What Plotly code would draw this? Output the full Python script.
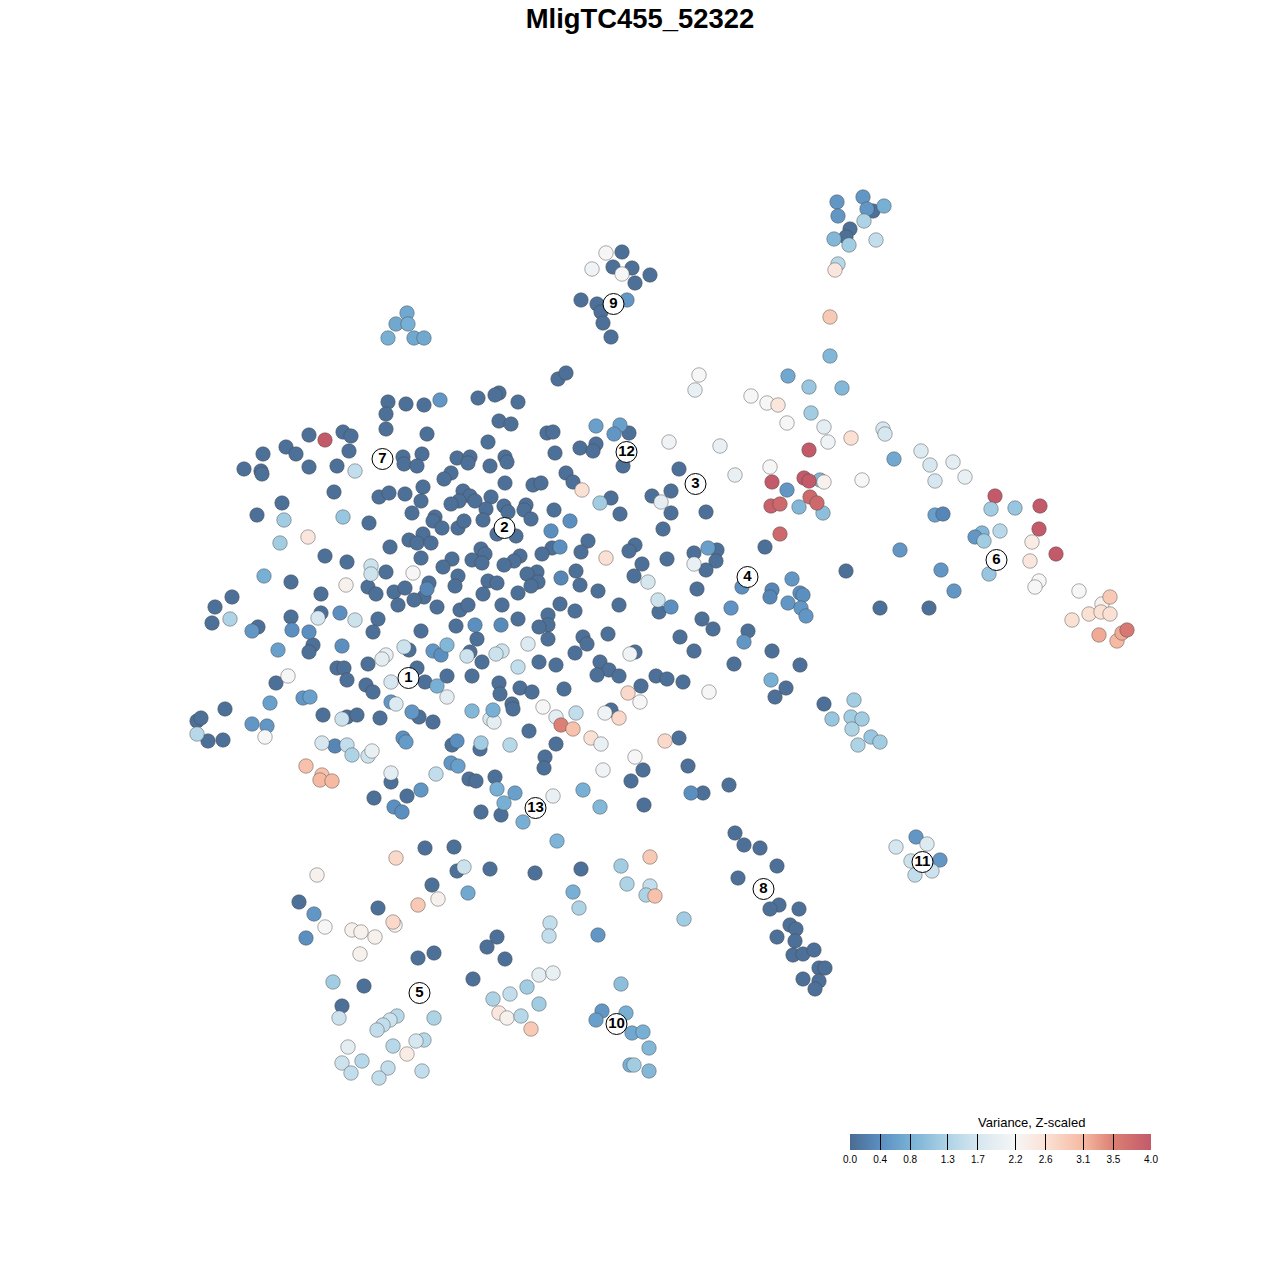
import plotly.graph_objects as go

# t-SNE-like embedding coordinates
dark_pts = [
(388,402),(406,404),(424,405),(386,414),(386,429),(427,434),(309,435),(343,432),(351,436),(286,447),(296,454),(263,454),(349,451),
(244,469),(261,471),(262,474),(309,467),(337,466),(403,457),(404,464),(422,454),(417,466),(457,458),(470,457),(468,463),(490,466),
(451,473),(444,479),(334,492),(379,497),(389,493),(405,494),(423,487),(421,501),(463,491),(470,496),(459,501),(451,504),(475,501),
(491,497),(486,509),(282,503),(257,515),(412,513),(435,517),(433,521),(442,528),(458,528),(464,521),(483,520),(369,523),(390,547),
(409,540),(423,534),(417,543),(431,543),(325,556),(347,562),(421,558),(452,559),(443,567),(472,560),(481,549),(485,554),(482,563),
(386,572),(458,576),(455,586),(488,581),(483,594),(291,582),(368,587),(376,594),(394,592),(405,588),(429,583),(424,597),(414,600),
(398,605),(437,607),(460,610),(468,605),(321,594),(232,597),(215,607),(212,623),(291,617),(321,613),(378,619),(373,632),(258,627),
(421,631),(456,626),(477,639),(313,645),(309,652),(409,650),(470,652),(482,662),(337,668),(344,668),(368,664),(347,680),(417,668),
(447,676),(472,676),(366,685),(373,692),(425,682),(276,683),
(558,379),(566,373),(478,398),(499,393),(495,395),(518,402),(499,421),(511,424),(547,433),(553,432),(488,442),(555,453),(580,448),
(596,444),(593,451),(629,433),(505,457),(507,462),(623,466),(679,469),(566,473),(573,482),(505,483),(533,485),(541,483),(504,506),
(508,512),(526,505),(524,510),(531,519),(554,510),(611,498),(620,514),(652,496),(671,491),(671,513),(706,512),(663,529),(497,534),
(516,536),(588,541),(581,552),(552,548),(542,554),(520,556),(514,561),(504,565),(635,545),(629,551),(642,564),(634,576),(667,559),
(694,553),(717,550),(716,561),(706,570),(765,547),(537,572),(527,574),(538,582),(531,586),(518,593),(497,583),(576,571),(580,585),
(598,591),(619,605),(697,589),(502,605),(560,604),(575,611),(659,612),(702,619),(713,629),(748,631),(680,637),(694,651),(734,664),
(772,651),(800,665),(518,619),(548,615),(548,625),(539,627),(548,639),(583,637),(587,644),(608,634),(575,653),(539,662),(556,665),
(635,652),(600,662),(609,670),(597,675),(619,676),(656,676),(667,679),(683,682),(641,686),(520,688),(532,692),(564,689),(786,688),
(775,697),(499,683),(500,694),
(225,709),(197,721),(201,718),(208,741),(223,740),(323,715),(347,717),(357,715),(380,718),(419,717),(433,722),(452,745),(480,749),
(469,779),(476,781),(495,777),(391,782),(374,798),(407,796),(481,812),(501,815),(425,848),(454,847),(457,871),(490,869),(432,885),
(512,704),(513,709),(529,731),(556,744),(545,757),(544,768),(611,710),(679,738),(688,766),(643,770),(631,781),(729,785),
(703,793),(644,805),(735,833),(744,845),(760,848),(777,866),(738,878),(535,873),(581,869),
(873,211),(850,229),(846,237),(622,252),(613,267),(632,268),(650,275),(635,283),(581,300),(597,304),(601,312),(603,323),(611,337),
(846,571),(880,608),(929,608),(824,704),(779,905),(770,909),(799,909),(790,925),(796,929),(777,937),(795,941),(793,955),(803,954),
(814,950),(819,968),(825,968),(803,979),(819,981),(815,989),(378,908),(299,902),(497,937),(487,947),(434,953),(418,958),(505,959),
(473,979),(364,986),(342,1006),
]

colored_pts = [
(440,400,.5),(343,517,1.1),(284,520,1.2),(280,543,1.2),(264,576,.8),(427,589,.3),(340,613,.4),(252,631,.5),(292,630,.4),(309,632,.4),
(278,650,.6),(342,646,.4),(475,625,.4),(433,651,.5),(441,655,.4),(447,645,.9),(437,686,.8),(230,619,1.3),(355,471,1.5),(371,566,1.6),
(371,574,1.6),(318,618,1.7),(355,620,1.6),(404,647,1.6),(386,655,2.0),(382,659,1.9),(467,656,1.6),(391,682,1.7),(447,697,1.9),
(413,573,2.2),(346,585,2.3),(308,537,2.5),(288,676,2.2),(325,440,4.0),
(596,426,.6),(620,425,.6),(614,434,.5),(570,521,.4),(551,531,.4),(560,547,.4),(561,578,.3),(501,625,.35),(671,607,.4),(742,587,.4),
(708,548,.6),(731,608,.45),(792,579,.5),(772,590,.3),(770,597,.3),(800,593,.4),(803,595,.4),(788,603,.5),(801,608,.5),(806,616,.5),
(744,642,.5),(771,680,.8),(787,490,.5),(799,507,.9),(820,480,.9),(823,513,1.0),
(669,442,2.1),(695,390,2.0),(720,446,2.0),(735,475,2.0),(661,502,1.9),(600,503,1.2),(582,490,2.6),(606,558,2.6),(694,564,2.0),
(648,582,1.7),(658,600,1.6),(630,654,2.1),(528,644,1.8),(502,651,1.6),(496,654,1.6),(518,667,1.5),(628,693,2.7),(640,702,2.2),
(709,692,2.2),(751,396,2.2),(767,403,2.2),(778,405,2.5),(787,423,2.2),(809,387,1.1),(811,413,1.2),(770,467,2.2),
(809,450,4),(772,482,4),(804,478,4),(809,481,4),(771,506,3.9),(780,504,3.8),(810,497,3.8),(817,503,3.8),(780,534,3.8),
(270,703,.6),(303,698,.5),(310,697,.6),(252,724,.5),(267,726,.5),(391,702,.5),(412,712,.5),(472,711,.9),(403,738,.4),(406,742,.55),
(335,746,.3),(457,741,.4),(451,763,.5),(458,766,.6),(421,790,.5),(394,807,.4),(402,812,.4),(481,743,1.2),
(396,704,1.8),(342,719,1.6),(322,743,1.7),(347,745,1.5),(352,755,1.3),(368,756,1.6),(372,751,2.0),(197,734,1.4),(265,737,2.2),
(391,773,1.9),(436,774,1.5),(464,867,1.6),(490,719,1.7),(494,722,1.9),
(306,766,3.0),(322,775,3.0),(320,780,3.1),(332,781,3.1),(396,858,2.7),(317,875,2.3),
(493,710,.8),(497,789,.8),(515,793,.6),(504,803,.8),(523,822,.8),(557,841,.85),(583,790,.8),(600,807,.9),(691,793,.4),(621,866,1.2),
(543,707,2.2),(556,717,1.9),(576,713,1.5),(605,713,2.1),(619,718,2.7),(591,738,2.6),(601,744,2.0),(665,741,2.7),(635,757,2.2),
(603,770,2.1),(553,796,2.0),(510,745,1.4),(650,857,2.9),(561,725,3.5),(573,729,3.0),
(863,197,.5),(837,202,.5),(867,209,.5),(884,206,.8),(838,216,.5),(864,221,1.3),(834,239,.9),(849,245,1.2),(876,240,1.5),(838,264,1.4),
(835,270,2.5),(830,317,2.9),(830,356,.9),(788,376,.7),(842,388,.9),(699,375,2.2),
(606,253,2.2),(592,269,2.1),(622,274,2.2),(627,300,.5),(407,313,.7),(396,324,.7),(408,324,.8),(388,338,.8),(414,338,.7),(424,338,.7),
(824,427,1.9),(828,442,2.1),(851,438,2.6),(883,429,1.7),(885,434,1.7),(894,459,.7),(921,451,1.8),(930,465,1.7),(953,462,1.9),
(965,477,2.0),(935,481,1.7),(862,480,2.2),(824,482,2.3),(935,515,.6),(943,514,.3),(995,496,4),(1040,506,4),(1039,529,4),(1056,554,4),
(991,509,1.2),(1015,508,1.1),(1000,531,1.4),(982,533,.9),(975,537,.5),(984,541,1.2),(900,550,.5),(941,570,.5),(954,591,.5),
(989,574,1.1),(1030,561,2.5),(1032,542,2.4),(1039,581,2.2),(1035,587,2.2),(1079,591,2.2),(1102,604,2.3),(1110,597,2.9),(1072,620,2.6),
(1089,614,2.6),(1101,612,2.6),(1110,614,2.6),(1099,635,3.2),(1117,641,3.1),(1122,633,3.2),(1127,630,3.6),
(854,700,1.2),(832,719,1.1),(851,717,1.2),(862,719,1.2),(852,729,1.3),(871,737,1.1),(880,742,1.2),(858,745,1.3),
(916,837,.5),(927,844,1.8),(896,847,1.7),(911,861,1.6),(940,860,.5),(932,871,1.6),(915,875,1.5),
(627,884,1.3),(650,886,1.5),(646,895,1.3),(655,896,3.0),(684,919,1.2),(573,892,.8),(579,908,1.3),(468,893,.7),(438,899,2.3),(418,905,2.9),
(314,914,.5),(306,938,.4),(325,927,2.2),(352,930,2.3),(361,932,2.3),(375,937,2.3),(395,925,2.3),(393,922,2.7),(360,954,2.3),(598,935,.5),
(550,923,1.5),(549,936,1.5),(539,975,1.9),(553,973,2.0),(527,987,1.2),(510,994,1.5),(493,999,1.3),(539,1004,1.2),(499,1013,2.5),
(507,1018,2.3),(521,1016,1.4),(531,1029,2.9),(621,984,1.0),(602,1011,.5),(626,1013,.8),(596,1020,.6),(632,1033,.7),(643,1032,.8),
(649,1048,.9),(630,1065,.8),(634,1065,1.2),(649,1071,.9),(333,982,1.2),(339,1018,1.6),(397,1016,1.4),(390,1020,1.6),(383,1025,1.5),
(377,1030,1.5),(434,1018,1.3),(424,1040,1.4),(416,1041,1.7),(393,1046,1.4),(348,1047,1.9),(407,1054,2.4),(342,1063,1.6),(362,1061,1.4),
(388,1068,1.5),(351,1073,1.5),(379,1078,1.5),(422,1071,1.5),
]

cluster_names = ["1","2","3","4","5","6","7","8","9","10","11","12","13"]
cluster_x = [408.5,504.5,695.5,747.5,419.5,996.5,382.5,763.5,613.5,616.5,922.5,626.5,535.5]
cluster_y = [678,528,484,577,993,560,459,889,304,1024,862,452,808]

tick_vals = [0.0,0.4,0.8,1.3,1.7,2.2,2.6,3.1,3.5,4.0]
tick_text = ["0.0","0.4","0.8","1.3","1.7","2.2","2.6","3.1","3.5","4.0"]
scale_vals = [0.0,0.4,0.8,1.3,1.7,2.2,2.6,3.1,3.5,4.0]
scale_cols = ["#4b6b93","#5a8fc0","#78b0d5","#add3e5","#d6e7f0","#f6f6f6","#fbe1d4","#f6b9a1","#dc7f74","#c35a69"]

all_x = [p[0] for p in dark_pts] + [p[0] for p in colored_pts]
all_y = [p[1] for p in dark_pts] + [p[1] for p in colored_pts]
all_v = [0.05]*len(dark_pts) + [p[2] for p in colored_pts]

fig = go.Figure()
fig.add_trace(go.Scatter(
    x=all_x, y=all_y, mode="markers", hoverinfo="skip",
    marker=dict(size=14.5, color=all_v, cmin=0, cmax=4,
                colorscale=[[v/4, c] for v, c in zip(scale_vals, scale_cols)],
                line=dict(color="rgba(70,70,70,0.45)", width=1),
                colorbar=dict(orientation="h", lenmode="pixels", len=301, thickness=16, thicknessmode="pixels",
                              x=1000.5/1280, xanchor="center", y=1-1134/1280, yanchor="top",
                              ypad=0, xpad=0, outlinecolor="black", outlinewidth=0,
                              ticks="inside", ticklen=16, tickcolor="black", tickwidth=1,
                              tickmode="array", tickvals=tick_vals, ticktext=tick_text,
                              tickfont=dict(family="Liberation Sans", size=10, color="black")))))
fig.add_trace(go.Scatter(
    x=cluster_x, y=cluster_y, mode="markers+text", text=cluster_names, textposition="middle center",
    textfont=dict(family="Liberation Sans", size=15, color="black", weight="bold"), hoverinfo="skip",
    marker=dict(size=21, color="white", line=dict(color="black", width=1))))

fig.add_annotation(text="Variance, Z-scaled", x=1031, y=1122, xref="x", yref="y", showarrow=False,
                   xanchor="center", yanchor="middle",
                   font=dict(family="Liberation Sans", size=13, color="black"))
fig.update_layout(
    width=1280, height=1280, margin=dict(l=0, r=0, t=0, b=0), autosize=False,
    showlegend=False, plot_bgcolor="white", paper_bgcolor="white",
    title=dict(text="<b>MligTC455_52322</b>", x=0.5, xanchor="center", y=1-18/1280, yanchor="middle",
               font=dict(family="Liberation Sans", size=27.4, color="black")),
    xaxis=dict(range=[0, 1280], visible=False, domain=[0, 1]),
    yaxis=dict(range=[1280, 0], visible=False, domain=[0, 1]),
)
fig.write_html("out.html", config={"displayModeBar": False},
               post_script="document.body.style.margin='0';document.body.style.overflow='hidden';")
